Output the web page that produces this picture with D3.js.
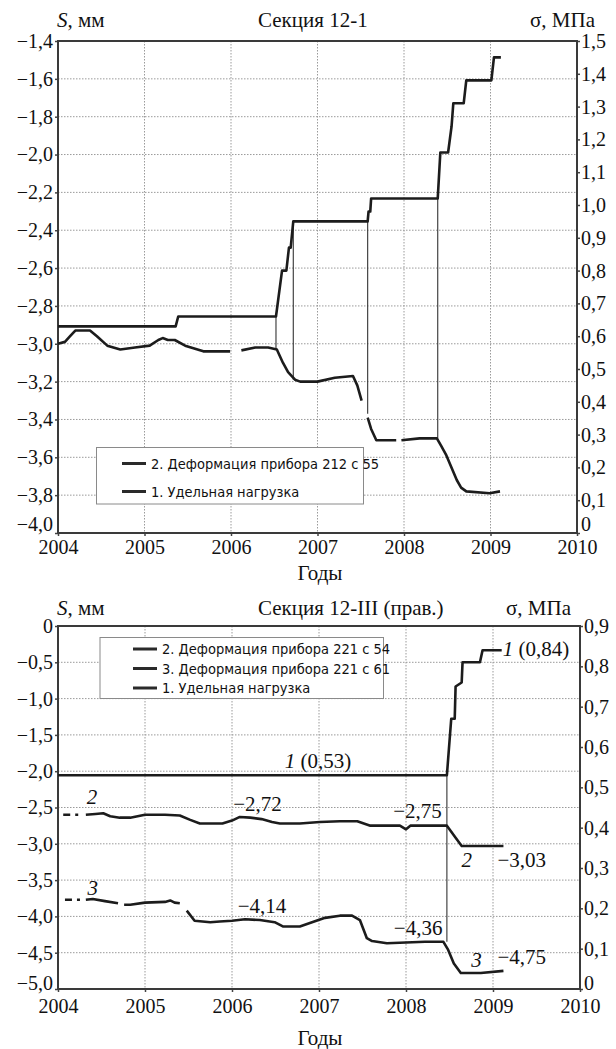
<!DOCTYPE html>
<html>
<head>
<meta charset="utf-8">
<script src="https://cdn.jsdelivr.net/npm/d3@7"></script>
<style>
  body { margin: 0; background: #fff; }
  svg text { font-family: "Liberation Serif", "Times New Roman", serif; fill: #111; }
  .leg text { font-family: "Liberation Sans Narrow", "Arial Narrow", "DejaVu Sans Condensed", sans-serif; font-stretch: condensed; }
</style>
</head>
<body>
<svg id="chart" width="616" height="1049"></svg>
<script>
// ---------- shared ----------
const yearTicks = [2004, 2005, 2006, 2007, 2008, 2009, 2010];

// ---------- Секция 12-1 ----------
const topSTicks = [-1.4, -1.6, -1.8, -2.0, -2.2, -2.4, -2.6, -2.8, -3.0, -3.2, -3.4, -3.6, -3.8, -4.0];
const topSigmaTicks = [0, 0.1, 0.2, 0.3, 0.4, 0.5, 0.6, 0.7, 0.8, 0.9, 1.0, 1.1, 1.2, 1.3, 1.4, 1.5];

// 1. Удельная нагрузка, МПа
const topLoad = [
  [2004.00, 0.63], [2005.36, 0.63], [2005.39, 0.66], [2006.52, 0.66], [2006.59, 0.80],
  [2006.64, 0.80], [2006.67, 0.87], [2006.69, 0.87], [2006.72, 0.95], [2007.58, 0.95],
  [2007.59, 0.98], [2007.61, 0.98], [2007.62, 1.02], [2008.39, 1.02], [2008.42, 1.16],
  [2008.51, 1.16], [2008.55, 1.24], [2008.57, 1.31], [2008.69, 1.31], [2008.72, 1.38],
  [2009.01, 1.38], [2009.04, 1.45], [2009.12, 1.45]
];

// 2. Деформация прибора 212 с 55, мм (null = пропуск)
const topDef = [
  [2004.00, -3.00], [2004.08, -2.99], [2004.14, -2.96], [2004.20, -2.93], [2004.37, -2.93],
  [2004.45, -2.96], [2004.57, -3.01], [2004.72, -3.03], [2004.89, -3.02], [2005.06, -3.01],
  [2005.16, -2.98], [2005.21, -2.97], [2005.27, -2.98], [2005.35, -2.98], [2005.47, -3.01],
  [2005.68, -3.04], [2005.99, -3.04], [2006.05, null],
  [2006.12, -3.035], [2006.28, -3.02], [2006.43, -3.02], [2006.53, -3.03], [2006.60, -3.10],
  [2006.66, -3.15], [2006.74, -3.19], [2006.80, -3.20], [2007.00, -3.20], [2007.20, -3.18],
  [2007.41, -3.17], [2007.46, -3.22], [2007.51, -3.30], [2007.54, null],
  [2007.58, -3.39], [2007.62, -3.45], [2007.68, -3.51], [2007.91, -3.51], [2007.94, null],
  [2007.97, -3.51], [2008.18, -3.50], [2008.38, -3.50], [2008.43, -3.54], [2008.49, -3.59],
  [2008.61, -3.72], [2008.66, -3.76], [2008.72, -3.78], [2008.99, -3.79], [2009.11, -3.78]
];

// vertical links: year, load (МПа), deformation (мм)
const topLinks = [
  [2006.52, 0.66, -3.03], [2006.72, 0.95, -3.19], [2007.58, 0.95, -3.37], [2008.39, 1.02, -3.50]
];

// ---------- Секция 12-III (прав.) ----------
const botSTicks = [0, -0.5, -1.0, -1.5, -2.0, -2.5, -3.0, -3.5, -4.0, -4.5, -5.0];
const botSigmaTicks = [0, 0.1, 0.2, 0.3, 0.4, 0.5, 0.6, 0.7, 0.8, 0.9];

const botLoad = [
  [2004.00, 0.53], [2008.47, 0.53], [2008.52, 0.67], [2008.56, 0.67], [2008.57, 0.75],
  [2008.64, 0.76], [2008.65, 0.81], [2008.85, 0.81], [2008.88, 0.84], [2009.10, 0.84]
];

// 2. Деформация прибора 221 с 54
const botDef2Lead = [[2004.06, -2.60], [2004.31, -2.60]];
const botDef2 = [
  [2004.32, -2.60], [2004.43, -2.59], [2004.52, -2.58], [2004.60, -2.62], [2004.71, -2.64],
  [2004.83, -2.64], [2005.00, -2.60], [2005.23, -2.60], [2005.40, -2.61], [2005.52, -2.67],
  [2005.63, -2.72], [2005.89, -2.72], [2006.00, -2.68], [2006.09, -2.63], [2006.21, -2.64],
  [2006.34, -2.66], [2006.46, -2.70], [2006.55, -2.72], [2006.78, -2.72], [2007.01, -2.70],
  [2007.24, -2.69], [2007.44, -2.69], [2007.59, -2.75], [2007.93, -2.75], [2008.00, -2.80],
  [2008.05, -2.75], [2008.47, -2.75], [2008.56, -2.90], [2008.64, -3.03], [2009.12, -3.03]
];

// 3. Деформация прибора 221 с 61
const botDef3Lead = [[2004.08, -3.77], [2004.31, -3.77]];
const botDef3 = [
  [2004.32, -3.77], [2004.40, -3.76], [2004.54, -3.79], [2004.69, -3.82], [2004.72, null],
  [2004.76, -3.84], [2004.83, -3.84], [2005.00, -3.81], [2005.23, -3.80], [2005.29, -3.78],
  [2005.34, -3.81], [2005.40, -3.82], [2005.44, null],
  [2005.48, -3.92], [2005.57, -4.06], [2005.75, -4.08], [2005.86, -4.07], [2006.00, -4.06],
  [2006.15, -4.04], [2006.32, -4.05], [2006.49, -4.08], [2006.59, -4.14], [2006.78, -4.14],
  [2006.92, -4.08], [2007.07, -4.02], [2007.24, -3.99], [2007.38, -3.99], [2007.47, -4.05],
  [2007.55, -4.30], [2007.61, -4.34], [2007.78, -4.37], [2008.00, -4.36], [2008.22, -4.35],
  [2008.43, -4.35], [2008.48, -4.45], [2008.55, -4.65], [2008.63, -4.78], [2008.86, -4.78],
  [2009.12, -4.75]
];

const botLinks = [[2008.47, 0.53, -4.35]];

// ---------- drawing ----------
const svg = d3.select("#chart");
const fmt = v => v === 0 ? "0" : (v < 0 ? "\u2212" : "") + Math.abs(v).toFixed(1).replace(".", ",");
const INK = "#1c1c1c";
const FS = "21px";     // titles and annotations
const TFS = "20px";    // tick labels

function panel(cfg) {
  const x = d3.scaleLinear([2004, 2010], [cfg.left, cfg.right]);
  const yS = d3.scaleLinear(cfg.sDomain, [cfg.bottom, cfg.top]);
  const yP = d3.scaleLinear(cfg.pDomain, [cfg.bottom, cfg.top]);
  const g = svg.append("g");

  // grid
  const grid = g.append("g").attr("stroke", "#9a9a9a").attr("stroke-width", 1)
    .attr("stroke-dasharray", "1.5,1.5");
  grid.selectAll("line.v").data(yearTicks.slice(1, -1)).join("line")
    .attr("x1", d => x(d)).attr("x2", d => x(d)).attr("y1", cfg.top).attr("y2", cfg.bottom);
  grid.selectAll("line.h").data(cfg.sTicks.slice(1, -1)).join("line")
    .attr("y1", d => yS(d)).attr("y2", d => yS(d)).attr("x1", cfg.left).attr("x2", cfg.right);

  // axes
  function styleAxis(a, shift) {
    a.select(".domain").remove();
    a.attr("font-family", null).attr("font-size", null);
    a.selectAll(".tick line").attr("stroke", "#444").attr("stroke-width", 1.5);
    a.selectAll(".tick text").style("font-size", TFS).attr("fill", "#111");
    if (shift) a.selectAll(".tick text").attr("dy", d => shift(d));
  }
  const ax = g.append("g").attr("transform", `translate(0,${cfg.bottom})`)
    .call(d3.axisBottom(x).tickValues(yearTicks).tickFormat(d3.format("d")).tickSize(3).tickPadding(cfg.xPad));
  styleAxis(ax);
  const al = g.append("g").attr("transform", `translate(${cfg.left},0)`)
    .call(d3.axisLeft(yS).tickValues(cfg.sTicks).tickFormat(fmt).tickSize(3).tickPadding(2));
  styleAxis(al, cfg.leftShift);
  const ar = g.append("g").attr("transform", `translate(${cfg.right},0)`)
    .call(d3.axisRight(yP).tickValues(cfg.pTicks).tickFormat(fmt).tickSize(3).tickPadding(1));
  styleAxis(ar, cfg.rightShift);

  // legend
  const leg = g.append("g").attr("class", "leg");
  leg.append("rect").attr("x", cfg.legend.x).attr("y", cfg.legend.y)
    .attr("width", cfg.legend.w).attr("height", cfg.legend.h)
    .attr("fill", "#fff").attr("stroke", "#8a8a8a").attr("stroke-width", 1);
  cfg.legend.items.forEach((t, i) => {
    const yy = cfg.legend.rows[i];
    leg.append("line").attr("x1", cfg.legend.lx).attr("x2", cfg.legend.lx + 24)
      .attr("y1", yy).attr("y2", yy).attr("stroke", "#2a2a2a").attr("stroke-width", 3);
    leg.append("text").attr("x", cfg.legend.lx + 29).attr("y", yy).attr("dy", "0.36em")
      .style("font-size", "14.5px").text(t);
  });

  // frame
  g.append("rect").attr("x", cfg.left).attr("y", cfg.top)
    .attr("width", cfg.right - cfg.left).attr("height", cfg.bottom - cfg.top)
    .attr("fill", "none").attr("stroke", "#3a3a3a").attr("stroke-width", 2);

  // links
  g.append("g").selectAll("line").data(cfg.links).join("line")
    .attr("x1", d => x(d[0])).attr("x2", d => x(d[0]))
    .attr("y1", d => yP(d[1])).attr("y2", d => yS(d[2]))
    .attr("stroke", "#333").attr("stroke-width", 1.1);

  // series
  const lineS = d3.line().defined(d => d[1] !== null).x(d => x(d[0])).y(d => yS(d[1]));
  const lineP = d3.line().x(d => x(d[0])).y(d => yP(d[1]));
  const series = g.append("g").attr("fill", "none").attr("stroke", INK)
    .attr("stroke-width", 2.6).attr("stroke-linejoin", "round").attr("stroke-linecap", "butt");
  series.append("path").attr("d", lineP(cfg.load));
  cfg.defs.forEach(s => series.append("path").attr("d", lineS(s)));
  (cfg.leads || []).forEach(s => series.append("path").attr("d", lineS(s))
    .attr("stroke-dasharray", "7,5,3,60"));

  return { x, yS, yP, g };
}

function sTitle(x, y) {
  svg.append("text").attr("x", x).attr("y", y).style("font-size", FS)
    .call(t => { t.append("tspan").style("font-style", "italic").text("S"); t.append("tspan").text(", мм"); });
}

// ---- panel 1 ----
const p1 = panel({
  left: 58, right: 577, top: 41, bottom: 533, xPad: 4,
  sDomain: [-4.0, -1.4], pDomain: [0, 1.5],
  sTicks: topSTicks, pTicks: topSigmaTicks,
  leftShift: d => d === -4.0 ? "-0.12em" : "0.32em",
  rightShift: d => d === 0 ? "-0.12em" : "0.32em",
  load: topLoad, defs: [topDef], links: topLinks,
  legend: { x: 96.5, y: 447.5, w: 267, h: 56.5, lx: 122, rows: [463.5, 491.5],
    items: ["2. Деформация прибора 212 с 55", "1. Удельная нагрузка"] }
});
sTitle(57, 27);
svg.append("text").attr("x", 258).attr("y", 27).style("font-size", FS).text("Секция 12-1");
svg.append("text").attr("x", 595).attr("y", 27).attr("text-anchor", "end").style("font-size", FS).text("σ, МПа");
svg.append("text").attr("x", 320).attr("y", 580).attr("text-anchor", "middle").style("font-size", FS).text("Годы");

// ---- panel 2 ----
const p2 = panel({
  left: 58, right: 580, top: 626, bottom: 989, xPad: 7,
  sDomain: [-5.0, 0], pDomain: [0, 0.9],
  sTicks: botSTicks, pTicks: botSigmaTicks,
  leftShift: d => d === -5.0 ? "0.02em" : "0.32em",
  rightShift: d => d === 0 ? "0.02em" : "0.32em",
  load: botLoad, defs: [botDef2, botDef3], leads: [botDef2Lead, botDef3Lead], links: botLinks,
  legend: { x: 100, y: 637.5, w: 283.5, h: 61, lx: 133, rows: [649, 668.5, 688],
    items: ["2. Деформация прибора 221 с 54", "3. Деформация прибора 221 с 61", "1. Удельная нагрузка"] }
});
sTitle(57, 615);
svg.append("text").attr("x", 258).attr("y", 615).style("font-size", FS).text("Секция 12-III (прав.)");
svg.append("text").attr("x", 571).attr("y", 615).attr("text-anchor", "end").style("font-size", FS).text("σ, МПа");
svg.append("text").attr("x", 320).attr("y", 1045).attr("text-anchor", "middle").style("font-size", FS).text("Годы");

// value annotations, placed from the series they describe
const notes = [
  { t: "2", it: true, year: 2004.39, v: -2.60, dx: 0, dy: -11, anchor: "middle" },
  { t: "\u22122,72", year: 2006.55, v: -2.72, dx: 2, dy: -12, anchor: "end" },
  { t: "\u22122,75", year: 2008.47, v: -2.75, dx: -5, dy: -8, anchor: "end" },
  { t: "2", it: true, year: 2008.72, v: -3.03, dx: -2, dy: 21, anchor: "middle" },
  { t: "\u22123,03", year: 2009.12, v: -3.03, dx: -6, dy: 21, anchor: "start" },
  { t: "3", it: true, year: 2004.40, v: -3.76, dx: 0, dy: -4, anchor: "middle" },
  { t: "\u22124,14", year: 2006.59, v: -4.14, dx: 3, dy: -14, anchor: "end" },
  { t: "\u22124,36", year: 2008.43, v: -4.35, dx: -1, dy: -7, anchor: "end" },
  { t: "3", it: true, year: 2008.86, v: -4.78, dx: 1, dy: -6, anchor: "end" },
  { t: "\u22124,75", year: 2009.12, v: -4.75, dx: -6, dy: -7, anchor: "start" }
];
const ng = svg.append("g").style("font-size", FS);
notes.forEach(n => {
  ng.append("text").attr("x", p2.x(n.year) + n.dx).attr("y", p2.yS(n.v) + n.dy)
    .attr("text-anchor", n.anchor).style("font-style", n.it ? "italic" : "normal").text(n.t);
});
const loadNotes = [
  { v: 0.53, year: 2006.63, dx: -2, dy: -7, val: "0,53" },
  { v: 0.84, year: 2009.10, dx: 1, dy: 6, val: "0,84" }
];
loadNotes.forEach(n => {
  const t = ng.append("text").attr("x", p2.x(n.year) + n.dx).attr("y", p2.yP(n.v) + n.dy);
  t.append("tspan").style("font-style", "italic").text("1");
  t.append("tspan").text(" (" + n.val + ")");
});
</script>
</body>
</html>
